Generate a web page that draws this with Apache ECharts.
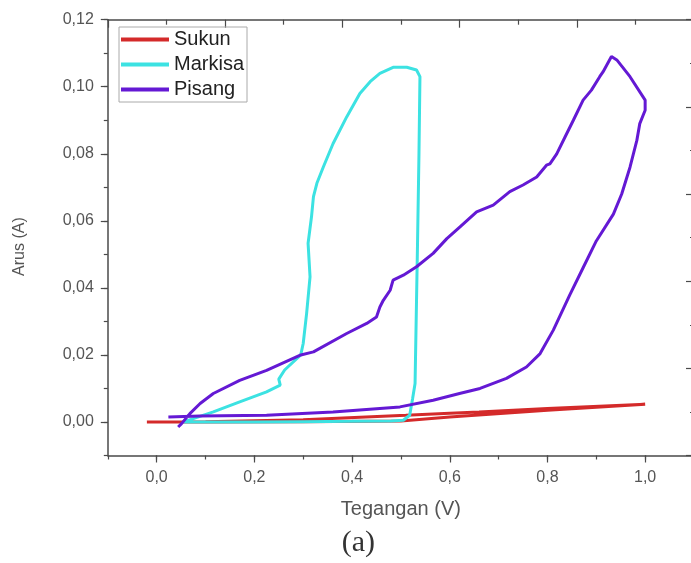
<!DOCTYPE html>
<html>
<head>
<meta charset="utf-8">
<script src="https://cdn.jsdelivr.net/npm/echarts@6/dist/echarts.min.js"></script>
<style>html,body{margin:0;padding:0;background:#fff;}#chart{width:691px;height:563px;}</style>
</head>
<body>
<div id="chart"></div>
<script>
// ---- data ----
const seriesNames = ['Sukun', 'Markisa', 'Pisang'];
const xTickLabels = ['0,0', '0,2', '0,4', '0,6', '0,8', '1,0'];
const yTickLabels = ['0,00', '0,02', '0,04', '0,06', '0,08', '0,10', '0,12'];

const sukunV = [-0.02, 0.1, 0.3, 0.5, 0.6, 0.8, 1.0, 0.8, 0.66, 0.6, 0.51, 0.3, 0.1, -0.02];
const sukunI = [0, 0, 0.0001, 0.0003, 0.0015, 0.0035, 0.0053, 0.0040, 0.0030, 0.0026, 0.0020, 0.0007, 0.0001, 0];

const markisaV = [0.055, 0.1, 0.2, 0.3, 0.4, 0.48, 0.505, 0.518, 0.524, 0.529, 0.534, 0.537, 0.539, 0.532, 0.512, 0.484, 0.457, 0.437, 0.416, 0.389, 0.361, 0.341, 0.328, 0.321, 0.317, 0.31, 0.314, 0.307, 0.30, 0.295, 0.262, 0.25, 0.253, 0.225, 0.17, 0.116, 0.075, 0.055];
const markisaI = [0, 0, 0, 0.0001, 0.0002, 0.0003, 0.0005, 0.002, 0.007, 0.0115, 0.053, 0.08, 0.103, 0.105, 0.1058, 0.1058, 0.104, 0.1015, 0.098, 0.091, 0.083, 0.076, 0.0712, 0.0672, 0.0612, 0.0533, 0.0433, 0.0324, 0.0234, 0.020, 0.0155, 0.0128, 0.011, 0.009, 0.006, 0.003, 0.001, 0];

const pisangV = [0.024, 0.089, 0.225, 0.361, 0.498, 0.566, 0.62, 0.662, 0.716, 0.757, 0.785, 0.812, 0.846, 0.873, 0.9, 0.935, 0.952, 0.969, 0.983, 0.989, 1.0, 1.0, 0.969, 0.942, 0.931, 0.914, 0.907, 0.89, 0.873, 0.853, 0.836, 0.819, 0.805, 0.798, 0.778, 0.75, 0.723, 0.689, 0.655, 0.621, 0.594, 0.566, 0.532, 0.505, 0.484, 0.478, 0.464, 0.457, 0.45, 0.43, 0.389, 0.321, 0.293, 0.225, 0.17, 0.116, 0.089, 0.068, 0.051, 0.044];
const pisangI = [0.0015, 0.0018, 0.002, 0.003, 0.0045, 0.0065, 0.0085, 0.010, 0.013, 0.0164, 0.0204, 0.0274, 0.038, 0.046, 0.054, 0.062, 0.068, 0.076, 0.084, 0.089, 0.093, 0.096, 0.103, 0.108, 0.109, 0.1045, 0.103, 0.099, 0.096, 0.090, 0.085, 0.080, 0.077, 0.0766, 0.0731, 0.0707, 0.0687, 0.0647, 0.0627, 0.0582, 0.0547, 0.0503, 0.0463, 0.0438, 0.0423, 0.0393, 0.0363, 0.0343, 0.0313, 0.0294, 0.0264, 0.0209, 0.0199, 0.0154, 0.0124, 0.0085, 0.0055, 0.0025, -0.0005, -0.0015];

const colors = ['#d42a2a', '#3ce2e2', '#6419d4'];

// ---- chart ----
const pair = (xs, ys) => xs.map((x, i) => [x, ys[i]]);
const FONT = '"Liberation Sans", Arial, sans-serif';
const AX = '#4a4a4a';
const LBL = '#555';

const G = { left: 107.8, top: 19.7, width: 586.2, height: 435.8 };
const x0px = G.left + G.width * (0.1 / 1.2);
const y0px = G.top + G.height * (0.12 / 0.13);

const chart = echarts.init(document.getElementById('chart'), null, { renderer: 'canvas' });
chart.setOption({
  animation: false,
  backgroundColor: '#ffffff',
  grid: [
    { left: G.left, top: G.top, width: G.width, height: G.height, containLabel: false, outerBoundsMode: 'none' },
    { left: x0px, top: G.top, width: G.left + G.width - x0px, height: G.height, containLabel: false, outerBoundsMode: 'none' },
    { left: G.left, top: G.top, width: G.width, height: y0px - G.top, containLabel: false, outerBoundsMode: 'none' }
  ],
  legend: {
    data: seriesNames,
    orient: 'vertical',
    left: 119, top: 27,
    padding: [2.5, 3, 2.5, 2],
    itemGap: 5,
    itemWidth: 48, itemHeight: 4,
    icon: 'rect',
    borderColor: '#aaaaaa', borderWidth: 1,
    textStyle: { fontFamily: FONT, fontSize: 20, color: '#222', lineHeight: 20 }
  },
  xAxis: [
    { type: 'value', gridIndex: 0, position: 'bottom', min: -0.1, max: 1.1, interval: 0.1,
      name: 'Tegangan (V)', nameLocation: 'middle', nameGap: 44,
      nameTextStyle: { fontFamily: FONT, fontSize: 20, color: LBL },
      axisLine: { show: true, onZero: false, lineStyle: { color: AX, width: 1.5 } },
      axisTick: { show: true, length: 4, lineStyle: { color: AX, width: 1.2 } },
      axisLabel: { show: false }, splitLine: { show: false } },
    { type: 'value', gridIndex: 0, position: 'top', min: 0, max: 10, interval: 2,
      axisLine: { show: true, onZero: false, lineStyle: { color: AX, width: 1.5 } },
      axisTick: { show: true, inside: true, length: 8, lineStyle: { color: AX, width: 1.2 } },
      minorTick: { show: true, splitNumber: 2, length: 5, lineStyle: { color: AX, width: 1.2 } },
      axisLabel: { show: false }, splitLine: { show: false } },
    { type: 'value', gridIndex: 1, position: 'bottom', min: 0, max: 1.1, interval: 0.2,
      axisLine: { show: false, onZero: false },
      axisTick: { show: true, length: 7, lineStyle: { color: AX, width: 1.2 } },
      axisLabel: { show: true, margin: 14, showMaxLabel: false, fontFamily: FONT, fontSize: 16, color: LBL,
        formatter: v => { const k = Math.round(v / 0.2); return (k >= 0 && k < xTickLabels.length && Math.abs(v - k * 0.2) < 1e-6) ? xTickLabels[k] : ''; } },
      splitLine: { show: false } },
    { type: 'value', gridIndex: 2, show: false, min: -0.1, max: 1.1 }
  ],
  yAxis: [
    { type: 'value', gridIndex: 0, position: 'left', min: -0.01, max: 0.12, interval: 0.01,
      name: 'Arus (A)', nameLocation: 'middle', nameGap: 80, nameRotate: 90,
      nameTextStyle: { fontFamily: FONT, fontSize: 16, color: LBL, padding: [0, 18, 0, 0] },
      axisLine: { show: true, onZero: false, lineStyle: { color: AX, width: 1.5 } },
      axisTick: { show: true, length: 4, lineStyle: { color: AX, width: 1.2 } },
      axisLabel: { show: false }, splitLine: { show: false } },
    { type: 'value', gridIndex: 0, position: 'right', min: 0, max: 5, interval: 1,
      axisLine: { show: true, onZero: false, lineStyle: { color: AX, width: 1.5 } },
      axisTick: { show: true, inside: true, length: 8, lineStyle: { color: AX, width: 1.2 } },
      minorTick: { show: true, splitNumber: 2, length: 4, lineStyle: { color: AX, width: 1.2 } },
      axisLabel: { show: false }, splitLine: { show: false } },
    { type: 'value', gridIndex: 1, show: false, min: -0.01, max: 0.12 },
    { type: 'value', gridIndex: 2, position: 'left', min: 0, max: 0.12, interval: 0.02,
      axisLine: { show: false, onZero: false },
      axisTick: { show: true, length: 7, lineStyle: { color: AX, width: 1.2 } },
      axisLabel: { show: true, margin: 14, fontFamily: FONT, fontSize: 16, color: LBL,
        formatter: v => { const k = Math.round(v / 0.02); return (k >= 0 && k < yTickLabels.length) ? yTickLabels[k] : ''; } },
      splitLine: { show: false } }
  ],
  series: [
    { name: seriesNames[0], type: 'line', xAxisIndex: 0, yAxisIndex: 0, data: pair(sukunV, sukunI),
      showSymbol: false, symbol: 'none', color: colors[0], lineStyle: { width: 3, color: colors[0] } },
    { name: seriesNames[1], type: 'line', xAxisIndex: 0, yAxisIndex: 0, data: pair(markisaV, markisaI),
      showSymbol: false, symbol: 'none', color: colors[1], lineStyle: { width: 3, color: colors[1] } },
    { name: seriesNames[2], type: 'line', xAxisIndex: 0, yAxisIndex: 0, data: pair(pisangV, pisangI),
      showSymbol: false, symbol: 'none', color: colors[2], lineStyle: { width: 3, color: colors[2] } }
  ],
  graphic: [
    { type: 'text', left: 358.7 - 17, top: 528,
      style: { text: '(a)', fontFamily: '"Liberation Serif", "Times New Roman", serif', fontSize: 30, fill: '#333' } }
  ]
});
</script>
</body>
</html>
